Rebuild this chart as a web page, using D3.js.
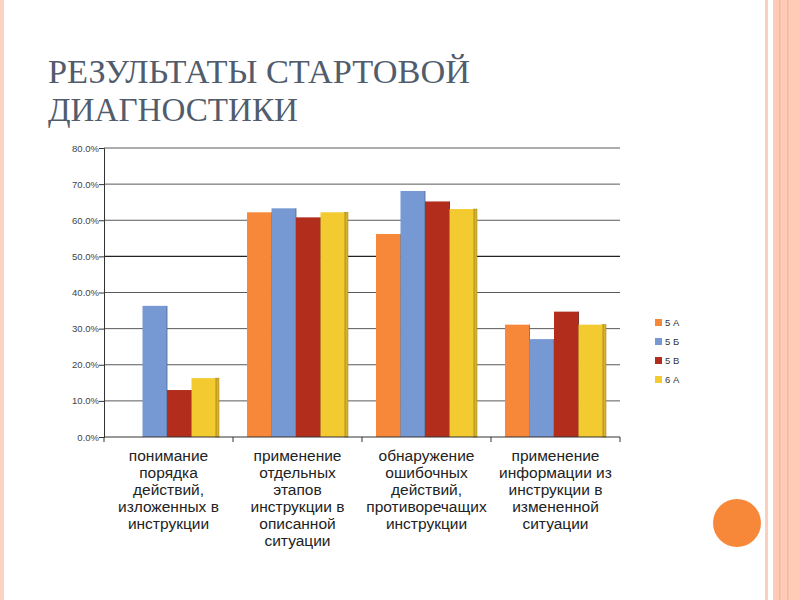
<!DOCTYPE html>
<html>
<head>
<meta charset="utf-8">
<script src="https://cdn.jsdelivr.net/npm/d3@7"></script>
<style>
  body { margin: 0; background: #fff; }
  svg { display: block; }
</style>
</head>
<body>
<svg id="slide" width="800" height="600"></svg>
<script>
var titleLines = ["РЕЗУЛЬТАТЫ СТАРТОВОЙ", "ДИАГНОСТИКИ"];

var categories = [
  ["понимание", "порядка", "действий,", "изложенных в", "инструкции"],
  ["применение", "отдельных", "этапов", "инструкции в", "описанной", "ситуации"],
  ["обнаружение", "ошибочных", "действий,", "противоречащих", "инструкции"],
  ["применение", "информации из", "инструкции в", "измененной", "ситуации"]
];

var seriesNames = ["5 А", "5 Б", "5 В", "6 А"];
var seriesColors = ["#f7883a", "#7699d4", "#b22d1b", "#f3cb30"];

// values in %, one array per series
var s5A = [0, 62.2, 56.2, 31.1];
var s5B = [36.3, 63.3, 68.1, 27.1];
var s5V = [13.0, 60.8, 65.2, 34.7];
var s6A = [16.3, 62.2, 63.1, 31.1];

var yTicks = [0, 10, 20, 30, 40, 50, 60, 70, 80];

var seriesValues = [s5A, s5B, s5V, s6A];

var svg = d3.select("#slide");

// slide decoration
svg.append("rect").attr("x", 0).attr("y", 0).attr("width", 4).attr("height", 600).attr("fill", "#fbd3c3");
svg.append("rect").attr("x", 765).attr("y", 0).attr("width", 3).attr("height", 600).attr("fill", "#fbcfbf");
svg.append("rect").attr("x", 773).attr("y", 0).attr("width", 27).attr("height", 600).attr("fill", "#ffcbb6");
svg.append("rect").attr("x", 779).attr("y", 0).attr("width", 1.5).attr("height", 600).attr("fill", "#f8b79c");
svg.append("rect").attr("x", 787).attr("y", 0).attr("width", 1.5).attr("height", 600).attr("fill", "#f8b79c");
svg.append("circle").attr("cx", 737).attr("cy", 523).attr("r", 24).attr("fill", "#f7883a");

// title
svg.selectAll(".title").data(titleLines).enter().append("text")
  .attr("class", "title")
  .attr("x", 48)
  .attr("y", function(d, i) { return 83 + i * 38; })
  .attr("font-family", "'Liberation Serif', 'Times New Roman', serif")
  .attr("font-size", 34)
  .attr("fill", "#515c6c")
  .attr("textLength", function(d, i) { return i == 0 ? 422 : 250; })
  .attr("lengthAdjust", "spacingAndGlyphs")
  .text(function(d) { return d; });

// chart
var margin = {top: 148, left: 104},
  width = 516,
  height = 289;

var g = svg.append("g").attr("transform", "translate(" + margin.left + "," + margin.top + ")");

var x0 = d3.scaleBand().domain(d3.range(categories.length)).range([0, width]);
var x1 = d3.scaleBand().domain(d3.range(seriesNames.length)).range([14, 112]);
var y = d3.scaleLinear().domain([0, 80]).range([height, 0]);

// grid
g.selectAll(".grid").data(yTicks.slice(1)).enter().append("line")
  .attr("class", "grid")
  .attr("x1", 0).attr("x2", width)
  .attr("y1", function(d) { return y(d); }).attr("y2", function(d) { return y(d); })
  .attr("stroke", function(d) { return d == 50 ? "#222" : "#5a5a5a"; })
  .attr("stroke-width", function(d) { return d == 50 ? 1.4 : 1; });

// y axis
var yAxis = d3.axisLeft(y).tickValues(yTicks).tickSize(5)
  .tickFormat(function(d) { return d3.format(".1f")(d) + "%"; });
g.append("g").call(yAxis)
  .call(function(a) {
    a.select(".domain").attr("stroke", "#333");
    a.selectAll(".tick line").attr("stroke", "#333");
    a.selectAll(".tick text").attr("font-family", "'Liberation Sans', Arial, sans-serif")
      .attr("font-size", 9.5).attr("fill", "#444").attr("x", -5);
  });

// bars
var groups = g.selectAll(".cat").data(categories).enter().append("g")
  .attr("class", "cat")
  .attr("transform", function(d, i) { return "translate(" + x0(i) + ",0)"; });

groups.each(function(c, ci) {
  var grp = d3.select(this);
  seriesValues.forEach(function(vals, si) {
    var v = vals[ci];
    if (!v) return;
    if (si == seriesValues.length - 1) {
      grp.append("rect")
        .attr("x", x1(si) + x1.bandwidth() - 1).attr("y", y(v))
        .attr("width", 4).attr("height", height - y(v))
        .attr("fill", "#d9b22a").attr("stroke", "#9a7d1a").attr("stroke-width", 0.5);
    }
    grp.append("rect")
      .attr("x", x1(si)).attr("y", y(v))
      .attr("width", x1.bandwidth()).attr("height", height - y(v))
      .attr("fill", seriesColors[si]);
    grp.append("line")
      .attr("x1", x1(si) + x1.bandwidth()).attr("x2", x1(si) + x1.bandwidth())
      .attr("y1", y(v)).attr("y2", height)
      .attr("stroke", d3.color(seriesColors[si]).darker(1.2)).attr("stroke-width", 0.8);
  });
});

// x axis
g.append("line")
  .attr("x1", 0).attr("x2", width).attr("y1", height).attr("y2", height)
  .attr("stroke", "#333");
g.selectAll(".xtick").data(d3.range(categories.length + 1)).enter().append("line")
  .attr("class", "xtick")
  .attr("x1", function(d) { return d * x0.bandwidth(); })
  .attr("x2", function(d) { return d * x0.bandwidth(); })
  .attr("y1", height).attr("y2", height + 5)
  .attr("stroke", "#333");

// category labels
groups.append("text")
  .attr("text-anchor", "middle")
  .attr("font-family", "'Liberation Sans', Arial, sans-serif")
  .attr("font-size", 15.5)
  .attr("fill", "#222")
  .selectAll("tspan").data(function(d) { return d; }).enter().append("tspan")
  .attr("x", x0.bandwidth() / 2)
  .attr("y", function(d, i) { return height + 24 + i * 17; })
  .text(function(d) { return d; });

// legend
var legend = svg.selectAll(".legend").data(seriesNames).enter().append("g")
  .attr("class", "legend")
  .attr("transform", function(d, i) { return "translate(655," + (319 + i * 19) + ")"; });
legend.append("rect").attr("width", 7).attr("height", 7)
  .attr("fill", function(d, i) { return seriesColors[i]; });
legend.append("text").attr("x", 10).attr("y", 7)
  .attr("font-family", "'Liberation Sans', Arial, sans-serif")
  .attr("font-size", 9.5).attr("fill", "#333")
  .text(function(d) { return d; });
</script>
</body>
</html>
